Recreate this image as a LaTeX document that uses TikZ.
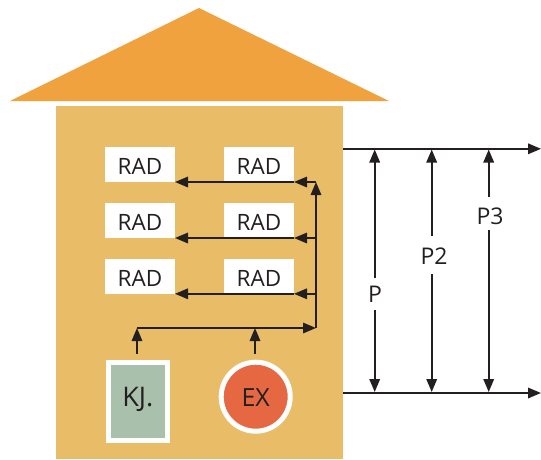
\documentclass[tikz,border=0pt]{standalone}
\usepackage{fontspec}
\setmainfont{Open Sans}
\usetikzlibrary{arrows.meta}
\definecolor{roofc}{HTML}{F0A23E}
\definecolor{bodyc}{HTML}{E9BC68}
\definecolor{kjc}{HTML}{A9C0AC}
\definecolor{exc}{HTML}{E56843}
\definecolor{inkc}{HTML}{231F20}
\tikzset{
  x=1pt,y=-1pt,
  radbox/.style={fill=white,minimum width=70pt,minimum height=35pt,inner sep=0pt,outer sep=0pt,text=inkc,font=\fontsize{22.5}{26}\selectfont,text height=19pt,text depth=0pt},
  arr/.style={draw=inkc,line width=1.7pt,-{Triangle[length=13pt,width=10.5pt]}},
  dimlabel/.style={inner sep=0pt,outer sep=0pt,text=inkc,font=\fontsize{23}{27}\selectfont,minimum width=24pt,text depth=0pt},
  sourcelabel/.style={draw=white,line width=5pt,inner sep=0pt,outer sep=0pt,text=inkc,font=\fontsize{25}{29}\selectfont,text depth=0pt},
}
\begin{document}
\begin{tikzpicture}
\useasboundingbox (0,0) rectangle (541,459);
\fill[roofc] (199,8) -- (389,101) -- (10,101) -- cycle;
\fill[bodyc] (56,106) rectangle (343,459);
% RAD boxes
\node[radbox] (l1) at (140,164.5) {RAD};
\node[radbox] (r1) at (259,164.5) {RAD};
\node[radbox] (l2) at (140,220.5) {RAD};
\node[radbox] (r2) at (259,220.5) {RAD};
\node[radbox] (l3) at (140,276.5) {RAD};
\node[radbox] (r3) at (259,276.5) {RAD};
% sources
\node[sourcelabel,fill=kjc,minimum width=59.3pt,minimum height=78pt,text height=11pt,font=\fontsize{27}{31}\selectfont] (kj) at (137.8,401) {KJ.};
\node[sourcelabel,circle,fill=exc,minimum size=69pt,text height=20pt] (ex) at (255.7,396.7) {EX};
% bus coordinates
\coordinate (j1) at (316,182);
\coordinate (j2) at (316,238);
\coordinate (j3) at (316,293.8);
\coordinate (j4) at (316,328);
\coordinate (b1) at (137,328);
\coordinate (b2) at (255,328);
\coordinate (s1) at (137,353.5);
\coordinate (s2) at (255,353.5);
\coordinate (m3r) at (294,293.8);
\coordinate (m3l) at (175,293.8);
% distribution
\draw[arr] (j4) -- (j1);
\draw[arr] (j1) -- (r1.south east);
\draw[arr] (r1.south east) -- (l1.south east);
\draw[arr] (j2) -- (r2.south east);
\draw[arr] (r2.south east) -- (l2.south east);
\draw[arr] (j3) -- (m3r);
\draw[arr] (m3r) -- (m3l);
\draw[arr] (b1) -- (j4);
\draw[arr] (s1) -- (b1);
\draw[arr] (s2) -- (b2);
% right side
\coordinate (t0) at (343,148.8);
\coordinate (t1) at (541,148.8);
\coordinate (u0) at (343,393);
\coordinate (u1) at (541,393);
\draw[arr] (t0) -- (t1);
\draw[arr] (u0) -- (u1);
\coordinate (pt) at (374.7,149.5);
\coordinate (pb) at (374.7,392);
\coordinate (p2t) at (431.7,149.5);
\coordinate (p2b) at (431.7,392);
\coordinate (p3t) at (488.7,149.5);
\coordinate (p3b) at (488.7,392);
\node[dimlabel,minimum height=32pt,text height=17.4pt] (p) at (375,294) {P};
\node[dimlabel,minimum height=38pt,text height=18pt] (p2) at (434,255) {P2};
\node[dimlabel,minimum height=33pt,text height=21.6pt] (p3) at (490,213.5) {P3};
\draw[arr] (p.north -| pt) -- (pt);
\draw[arr] (p.south -| pb) -- (pb);
\draw[arr] (p2.north -| p2t) -- (p2t);
\draw[arr] (p2.south -| p2b) -- (p2b);
\draw[arr] (p3.north -| p3t) -- (p3t);
\draw[arr] (p3.south -| p3b) -- (p3b);
\end{tikzpicture}
\end{document}
